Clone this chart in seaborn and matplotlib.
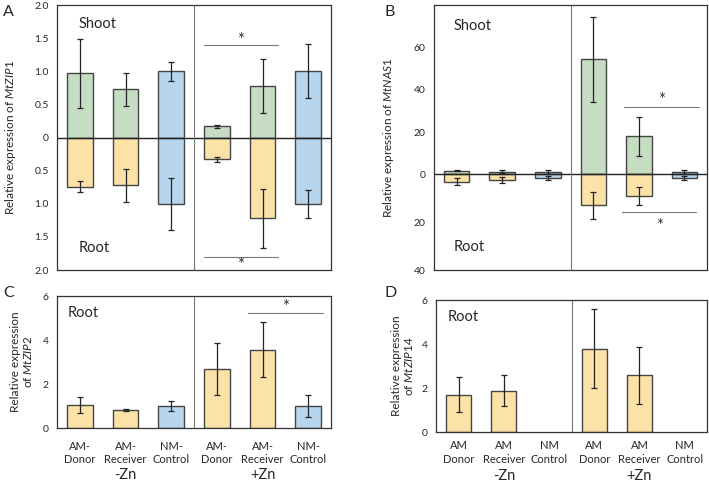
import numpy as np
import pandas as pd
import matplotlib
matplotlib.use("Agg")
import matplotlib.pyplot as plt
import seaborn as sns

sns.set_style("white")
plt.rcParams["font.family"] = ["Lato", "DejaVu Sans"]
plt.rcParams["mathtext.fontset"] = "custom"
plt.rcParams["mathtext.it"] = "Lato:italic"
plt.rcParams["mathtext.rm"] = "Lato"

# data
bars = ["AM Donor -Zn", "AM Receiver -Zn", "NM Control -Zn",
        "AM Donor +Zn", "AM Receiver +Zn", "NM Control +Zn"]
kind = ["AM", "AM", "NM", "AM", "AM", "NM"]
labels_c = ["AM-\nDonor", "AM-\nReceiver", "NM-\nControl"] * 2
labels_d = ["AM\nDonor", "AM\nReceiver", "NM\nControl"] * 2
zn_groups = ["-Zn", "+Zn"]

zip1_shoot = [0.97, 0.73, 1.00, 0.17, 0.78, 1.00]
zip1_shoot_err = [0.52, 0.25, 0.14, 0.02, 0.41, 0.41]
zip1_root = [0.74, 0.72, 1.00, 0.33, 1.22, 1.00]
zip1_root_err = [0.08, 0.25, 0.39, 0.04, 0.45, 0.21]

nas1_shoot = [1.8, 1.3, 1.3, 54.3, 18.0, 1.3]
nas1_shoot_err = [0.3, 0.8, 0.9, 20.0, 9.2, 0.9]
nas1_root = [3.0, 2.2, 1.4, 12.9, 9.2, 1.4]
nas1_root_err = [1.5, 1.3, 0.8, 5.7, 3.8, 0.8]

zip2_root = [1.05, 0.82, 1.00, 2.68, 3.56, 1.00]
zip2_root_err = [0.37, 0.05, 0.24, 1.18, 1.25, 0.49]

zip14_root = [1.70, 1.87, np.nan, 3.78, 2.58, np.nan]
zip14_root_err = [0.80, 0.70, np.nan, 1.80, 1.30, np.nan]

green = "#c6ddc3"
yellow = "#fbe3a8"
blue = "#b7d5ec"
edge = "#444444"
W = 0.56


def draw_bars(ax, vals, errs, am_color, sign=1):
    df = pd.DataFrame({"bar": bars, "val": np.array(vals, dtype=float) * sign, "kind": kind})
    sns.barplot(data=df, x="bar", y="val", hue="kind", order=bars,
                palette={"AM": am_color, "NM": blue}, saturation=1, width=W, dodge=False,
                edgecolor=edge, linewidth=1.0, errorbar=None, legend=False, ax=ax)
    ax.errorbar(np.arange(len(bars)), df["val"], yerr=errs, fmt="none",
                ecolor="#222222", elinewidth=0.9, capsize=2, capthick=0.9)


def style(ax):
    for s in ax.spines.values():
        s.set_visible(True)
        s.set_color("#333333")
        s.set_linewidth(0.9)
    ax.axvline(2.5, color="#777777", lw=0.8)
    ax.tick_params(axis="both", length=0, labelsize=7.5)
    ax.tick_params(axis="y", pad=6)
    ax.set_xlabel("")
    ax.set_xlim(-0.5, 5.5)


def sig(ax, x0, x1, y, ys):
    ax.plot([x0, x1], [y, y], color="#777777", lw=0.8)
    ax.text((x0 + x1) / 2, ys, "*", ha="center", va="center", fontsize=12, color="#333333")


fig = plt.figure(figsize=(7.09, 4.84), dpi=100)
axA = fig.add_axes([0.0804, 0.4421, 0.3865, 0.5475])
axB = fig.add_axes([0.612, 0.4421, 0.3855, 0.5475])
axC = fig.add_axes([0.0804, 0.1157, 0.3865, 0.2727])
axD = fig.add_axes([0.615, 0.1074, 0.3825, 0.2727])

# A
draw_bars(axA, zip1_shoot, zip1_shoot_err, green, 1)
draw_bars(axA, zip1_root, zip1_root_err, yellow, -1)
axA.axhline(0, color="#222222", lw=1.0)
style(axA)
axA.set_ylim(-2, 2)
ticksA = [-2, -1.5, -1, -0.5, 0, 0.5, 1, 1.5, 2]
axA.set_yticks(ticksA)
axA.set_yticklabels(["0" if t == 0 else f"{abs(t):.1f}" for t in ticksA])
axA.set_xticklabels([])
axA.set_ylabel("Relative expression of $\\mathit{MtZIP1}$", fontsize=8.5)
axA.yaxis.set_label_coords(-0.142, 0.5)
axA.text(0.08, 0.928, "Shoot", transform=axA.transAxes, fontsize=10.5, va="center")
axA.text(0.08, 0.083, "Root", transform=axA.transAxes, fontsize=10.5, va="center")
sig(axA, 3 - W / 2, 4 + 0.33, 1.4, 1.47)
sig(axA, 3 - W / 2, 4 + 0.33, -1.8, -1.93)

# B
k = 1.13
draw_bars(axB, nas1_shoot, nas1_shoot_err, green, 1)
draw_bars(axB, nas1_root, nas1_root_err, yellow, -1)
axB.set_yscale("function", functions=(lambda y: np.where(y < 0, y * k, y),
                                      lambda y: np.where(y < 0, y / k, y)))
axB.axhline(0, color="#222222", lw=1.0)
style(axB)
axB.set_ylim(-40, 80)
ticksB = [-40, -20, 0, 20, 40, 60]
axB.set_yticks(ticksB)
axB.set_yticklabels([str(abs(t)) for t in ticksB])
axB.set_xticklabels([])
axB.set_ylabel("Relative expression of $\\mathit{MtNAS1}$", fontsize=8.5)
axB.yaxis.set_label_coords(-0.139, 0.5)
axB.text(0.073, 0.92, "Shoot", transform=axB.transAxes, fontsize=10.5, va="center")
axB.text(0.073, 0.087, "Root", transform=axB.transAxes, fontsize=10.5, va="center")
sig(axB, 3.68, 5.32, 31.6, 35)
sig(axB, 3.64, 5.26, -15.8, -21.5)

# C
draw_bars(axC, zip2_root, zip2_root_err, yellow, 1)
style(axC)
axC.set_ylim(0, 6)
axC.set_yticks([0, 2, 4, 6])
axC.set_xticks(range(6))
axC.set_xticklabels(labels_c, fontsize=8, linespacing=1.3)
axC.tick_params(axis="x", pad=9)
axC.set_ylabel("Relative expression\nof $\\mathit{MtZIP2}$", fontsize=8.5, linespacing=1.1)
axC.yaxis.set_label_coords(-0.084, 0.5)
axC.text(0.04, 0.87, "Root", transform=axC.transAxes, fontsize=10.5, va="center")
sig(axC, 3.68, 5.32, 5.24, 5.5)

# D
draw_bars(axD, zip14_root, zip14_root_err, yellow, 1)
style(axD)
axD.set_ylim(0, 6)
axD.set_yticks([0, 2, 4, 6])
axD.set_xticks(range(6))
axD.set_xticklabels(labels_d, fontsize=8, linespacing=1.3)
axD.tick_params(axis="x", pad=6)
axD.set_ylabel("Relative expression\nof $\\mathit{MtZIP14}$", fontsize=8.5, linespacing=1.1)
axD.yaxis.set_label_coords(-0.077, 0.5)
axD.text(0.044, 0.87, "Root", transform=axD.transAxes, fontsize=10.5, va="center")

for ax, gy in ((axC, -0.355), (axD, -0.332)):
    for i, g in enumerate(zn_groups):
        ax.text(1 + 3 * i, gy, g, transform=ax.get_xaxis_transform(),
                ha="center", va="center", fontsize=10.5)

fig.text(0.004, 0.99, "A", fontsize=11.5, va="top")
fig.text(0.543, 0.99, "B", fontsize=11.5, va="top")
fig.text(0.004, 0.41, "C", fontsize=11.5, va="top")
fig.text(0.543, 0.41, "D", fontsize=11.5, va="top")

fig.savefig("out.png", dpi=100)
